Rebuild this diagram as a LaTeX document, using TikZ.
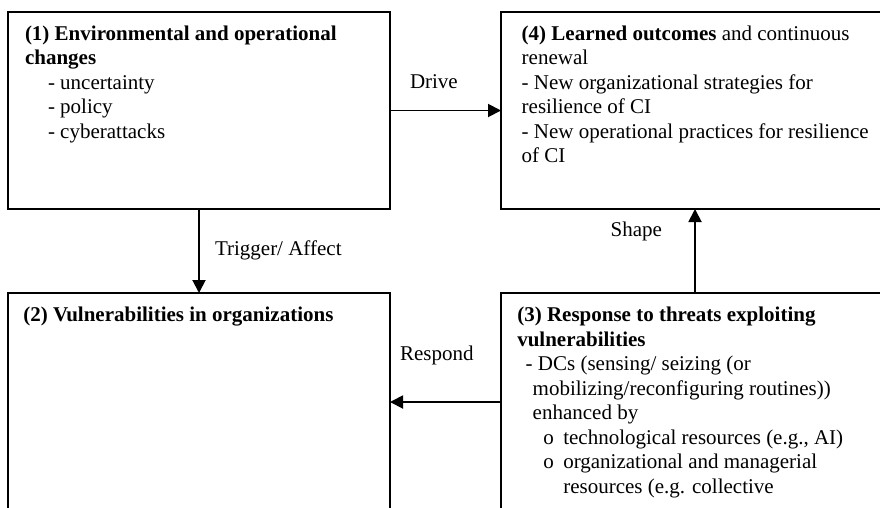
\documentclass[tikz,border=0pt]{standalone}
\usepackage{fontspec}
\setmainfont{Liberation Serif}
\usetikzlibrary{arrows.meta}
\begin{document}
\begin{tikzpicture}[x=1pt,y=-1pt,
  box/.style={draw=black, line width=1.4pt, inner sep=0pt, outer sep=0pt, anchor=north west},
  arr/.style={draw=black, line width=1.9pt, -{Triangle[length=13pt,width=13pt]}},
  txt/.style={anchor=base west, inner sep=0pt, outer sep=0pt, font=\fontsize{21}{24.5}\selectfont},
  lbl/.style={txt}]
\useasboundingbox (0,0) rectangle (880,507);
\clip (0,0) rectangle (880,507);
\fill[white] (0,0) rectangle (880,507);
% boxes
\node[box, minimum width=382pt, minimum height=197pt] (b1) at (8,12) {};
\node[box, minimum width=388pt, minimum height=197pt] (b4) at (501,12) {};
\node[box, minimum width=382pt, minimum height=218pt] (b2) at (8,293) {};
\node[box, minimum width=388pt, minimum height=218pt] (b3) at (501,293) {};
% box 1 text
\node[txt] (t11) at (25,40) {\textbf{(1) Environmental and operational}};
\node[txt] (t12) at (25,64.5) {\textbf{changes}};
\node[txt] (t13) at (48,89) {- uncertainty};
\node[txt] (t14) at (48,113.5) {- policy};
\node[txt] (t15) at (48,138) {- cyberattacks};
% box 4 text
\node[txt] (t41) at (521.7,40) {\textbf{(4) Learned outcomes} and continuous};
\node[txt] (t42) at (521.7,64.5) {renewal};
\node[txt] (t43) at (521.7,89) {- New organizational strategies for};
\node[txt] (t44) at (521.7,113.5) {resilience of CI};
\node[txt] (t45) at (521.7,138) {- New operational practices for resilience};
\node[txt] (t46) at (521.7,162.5) {of CI};
% box 2 text
\node[txt] (t21) at (23.3,321.7) {\textbf{(2) Vulnerabilities in organizations}};
% box 3 text
\node[txt] (t31) at (517.3,321.7) {\textbf{(3) Response to threats exploiting}};
\node[txt] (t32) at (517.3,346.2) {\textbf{vulnerabilities}};
\node[txt] (t33) at (525.7,370.7) {- DCs (sensing/ seizing (or};
\node[txt] (t34) at (532.7,395.2) {mobilizing/reconfiguring routines))};
\node[txt] (t35) at (532.7,419.7) {enhanced by};
\node[txt] (t36o) at (543.3,444.2) {o};
\node[txt] (t36) at (563.3,444.2) {technological resources (e.g., AI)};
\node[txt] (t37o) at (543.3,468.7) {o};
\node[txt] (t37) at (563.3,468.7) {organizational and managerial};
\node[txt] (t38) at (563.3,493.2) {resources (e.g. collective};
% connectors
\draw[arr] (b1.east) -- (b4.west);
\draw[arr] (b1.south) -- (b2.north);
\draw[arr] (b3.north) -- (b4.south);
\draw[arr] (b3.west) -- (b2.east);
% labels
\node[lbl] (lDrive) at (410,88.3) {Drive};
\node[lbl] (lTrig) at (215,255) {Trigger/ Affect};
\node[lbl] (lShape) at (610.7,236) {Shape};
\node[lbl] (lResp) at (400,360) {Respond};
\end{tikzpicture}
\end{document}
